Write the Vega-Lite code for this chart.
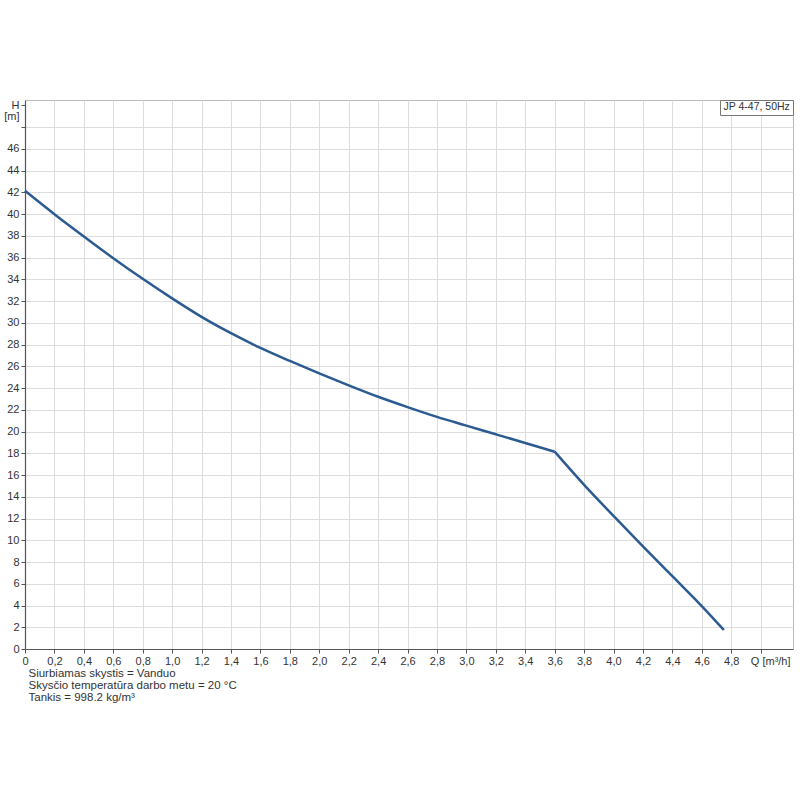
{
  "$schema": "https://vega.github.io/schema/vega-lite/v6.json",
  "autosize": {"type": "none"},
  "padding": {"left": 25, "top": 100, "right": 7, "bottom": 151},
  "width": 768,
  "height": 549,
  "background": "white",
  "config": {
    "view": {"stroke": "#bbbbbb", "strokeWidth": 1},
    "font": "Liberation Sans"
  },
  "data": {
    "values": [
      {"Q": 0.0, "H": 42.15, "series": "JP 4-47, 50Hz", "part": "a"},
      {"Q": 0.2, "H": 40.0, "series": "JP 4-47, 50Hz", "part": "a"},
      {"Q": 0.4, "H": 37.95, "series": "JP 4-47, 50Hz", "part": "a"},
      {"Q": 0.6, "H": 35.95, "series": "JP 4-47, 50Hz", "part": "a"},
      {"Q": 0.8, "H": 34.05, "series": "JP 4-47, 50Hz", "part": "a"},
      {"Q": 1.0, "H": 32.25, "series": "JP 4-47, 50Hz", "part": "a"},
      {"Q": 1.2, "H": 30.55, "series": "JP 4-47, 50Hz", "part": "a"},
      {"Q": 1.4, "H": 29.05, "series": "JP 4-47, 50Hz", "part": "a"},
      {"Q": 1.6, "H": 27.7, "series": "JP 4-47, 50Hz", "part": "a"},
      {"Q": 1.8, "H": 26.5, "series": "JP 4-47, 50Hz", "part": "a"},
      {"Q": 2.0, "H": 25.35, "series": "JP 4-47, 50Hz", "part": "a"},
      {"Q": 2.2, "H": 24.25, "series": "JP 4-47, 50Hz", "part": "a"},
      {"Q": 2.4, "H": 23.2, "series": "JP 4-47, 50Hz", "part": "a"},
      {"Q": 2.6, "H": 22.25, "series": "JP 4-47, 50Hz", "part": "a"},
      {"Q": 2.8, "H": 21.35, "series": "JP 4-47, 50Hz", "part": "a"},
      {"Q": 3.0, "H": 20.55, "series": "JP 4-47, 50Hz", "part": "a"},
      {"Q": 3.2, "H": 19.75, "series": "JP 4-47, 50Hz", "part": "a"},
      {"Q": 3.4, "H": 18.95, "series": "JP 4-47, 50Hz", "part": "a"},
      {"Q": 3.6, "H": 18.15, "series": "JP 4-47, 50Hz", "part": "a"},
      {"Q": 3.6, "H": 18.15, "series": "JP 4-47, 50Hz", "part": "b"},
      {"Q": 3.8, "H": 15.1, "series": "JP 4-47, 50Hz", "part": "b"},
      {"Q": 4.0, "H": 12.25, "series": "JP 4-47, 50Hz", "part": "b"},
      {"Q": 4.2, "H": 9.45, "series": "JP 4-47, 50Hz", "part": "b"},
      {"Q": 4.4, "H": 6.7, "series": "JP 4-47, 50Hz", "part": "b"},
      {"Q": 4.6, "H": 3.95, "series": "JP 4-47, 50Hz", "part": "b"},
      {"Q": 4.75, "H": 1.75, "series": "JP 4-47, 50Hz", "part": "b"}
    ]
  },
  "mark": {"type": "line", "strokeWidth": 2.5, "interpolate": "monotone"},
  "encoding": {
    "x": {
      "field": "Q",
      "type": "quantitative",
      "scale": {"domain": [0, 5.22], "nice": false, "zero": false},
      "axis": {
        "values": [0, 0.2, 0.4, 0.6, 0.8, 1.0, 1.2, 1.4, 1.6, 1.8, 2.0, 2.2, 2.4, 2.6, 2.8, 3.0, 3.2, 3.4, 3.6, 3.8, 4.0, 4.2, 4.4, 4.6, 4.8, 5.0, 5.2],
        "labelExpr": "datum.value == 0 ? '0' : datum.value > 5.1 ? 'Q [m³/h]' : datum.value > 4.9 ? '' : replace(format(datum.value, '.1f'), '.', ',')",
        "labelFlush": false,
        "labelOverlap": false,
        "labelFont": "Liberation Sans",
        "labelFontSize": 11,
        "labelColor": "#333333",
        "labelPadding": 2,
        "labelAlign": {"condition": {"test": "datum.value > 5.1", "value": "right"}, "value": "center"},
        "tickSize": 4,
        "tickColor": "#555555",
        "tickOpacity": {"condition": {"test": "datum.value > 5.1", "value": 0}, "value": 1},
        "domainColor": "#555555",
        "domainWidth": 1.2,
        "grid": true,
        "gridColor": "#dddddd",
        "gridOpacity": {"condition": {"test": "datum.value > 5.1", "value": 0}, "value": 1},
        "title": ["Siurbiamas skystis = Vanduo", "Skysčio temperatūra darbo metu = 20 °C", "Tankis = 998.2 kg/m³"],
        "titleFont": "Liberation Sans",
        "titleFontSize": 11.5,
        "titleFontWeight": "normal",
        "titleColor": "#333333",
        "titleAnchor": "start",
        "titleAlign": "left",
        "titleBaseline": "top",
        "titleLineHeight": 12,
        "titleX": 3,
        "titleY": 18
      }
    },
    "y": {
      "field": "H",
      "type": "quantitative",
      "scale": {"domain": [0, 50.5], "nice": false, "zero": false},
      "axis": {
        "values": [0, 2, 4, 6, 8, 10, 12, 14, 16, 18, 20, 22, 24, 26, 28, 30, 32, 34, 36, 38, 40, 42, 44, 46, 48, 49, 50],
        "labelExpr": "datum.value == 50 ? 'H' : datum.value == 49 ? '[m]' : datum.value == 48 ? '' : format(datum.value, 'd')",
        "labelOverlap": false,
        "labelFlush": false,
        "labelFont": "Liberation Sans",
        "labelFontSize": 11,
        "labelColor": "#333333",
        "labelPadding": 2,
        "tickSize": 4,
        "tickColor": "#555555",
        "tickOpacity": {"condition": {"test": "datum.value == 49", "value": 0}, "value": 1},
        "domainColor": "#555555",
        "domainWidth": 1.2,
        "grid": true,
        "gridColor": "#dddddd",
        "gridOpacity": {"condition": {"test": "datum.value >= 49", "value": 0}, "value": 1},
        "title": null
      }
    },
    "detail": {"field": "part", "type": "nominal"},
    "color": {
      "field": "series",
      "type": "nominal",
      "scale": {"domain": ["JP 4-47, 50Hz"], "range": ["#2c5b92"]},
      "legend": {
        "orient": "top-right",
        "offset": 0,
        "title": null,
        "padding": 2,
        "strokeColor": "#777777",
        "fillColor": "white",
        "symbolSize": 0,
        "symbolStrokeWidth": 0,
        "labelOffset": -9,
        "labelFont": "Liberation Sans",
        "labelFontSize": 10.5,
        "labelColor": "#333333"
      }
    }
  }
}
